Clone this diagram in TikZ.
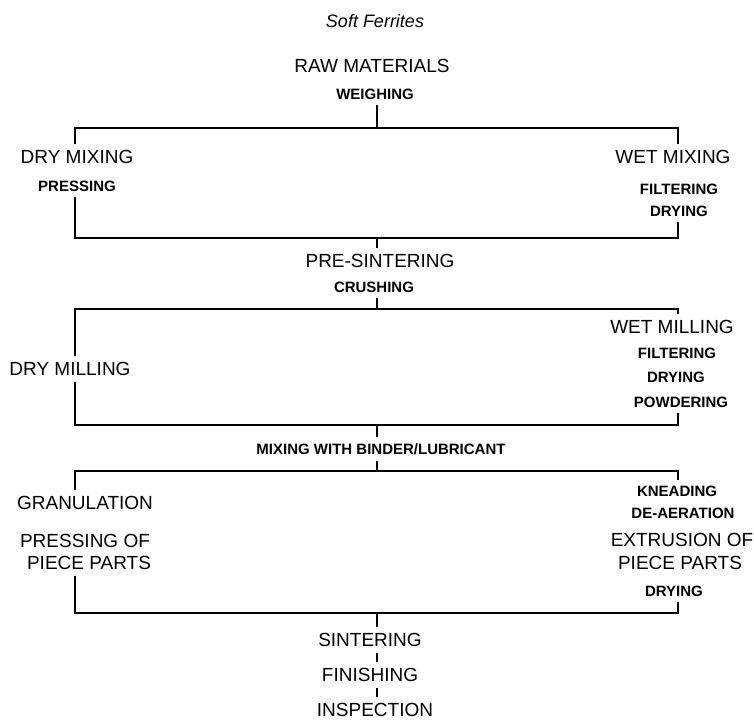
\documentclass[tikz,border=0pt]{standalone}
\usepackage{fontspec}
\setmainfont{Liberation Sans}
\usepackage{tikz}
\tikzset{
  stage/.style    = {font=\fontsize{19}{19}\selectfont, inner sep=6pt, text depth=0pt},
  substage/.style = {font=\fontsize{15}{15}\selectfont\bfseries, inner sep=6pt, text depth=0pt},
  caption/.style  = {font=\fontsize{18}{18}\selectfont\itshape, inner sep=0pt},
  link/.style     = {line width=1.9pt, black}
}

\begin{document}
\begin{tikzpicture}[x=1pt, y=-1pt]
  \useasboundingbox (0,0) rectangle (754,721);

  % Title
  \node (head)    [caption]  at (375,21)  {Soft Ferrites};

  % Raw materials
  \node (raw)     [stage]    at (372,66)  {RAW MATERIALS};
  \node (weigh)   [substage] at (375,94)  {WEIGHING};

  % Mixing branches
  \node (drymix)  [stage]    at (77,157)  {DRY MIXING};
  \node (press)   [substage] at (77,186)  {PRESSING};
  \node (wetmix)  [stage]    at (673,157) {WET MIXING};
  \node (wfilt)   [substage] at (679,189) {FILTERING};
  \node (wdry)    [substage] at (679,211) {DRYING};

  % Pre-sintering
  \node (presint) [stage]    at (380,261) {PRE-SINTERING};
  \node (crush)   [substage] at (374,287) {CRUSHING};

  % Milling branches
  \node (drymill) [stage]    at (70,369)  {DRY MILLING};
  \node (wetmill) [stage]    at (672,327) {WET MILLING};
  \node (mfilt)   [substage] at (677,353) {FILTERING};
  \node (mdry)    [substage] at (676,377) {DRYING};
  \node (powder)  [substage] at (681,402) {POWDERING};

  % Binder
  \node (binder)  [substage] at (381,449) {MIXING WITH BINDER/LUBRICANT};

  % Shaping branches
  \node (gran)    [stage]    at (85,503)  {GRANULATION};
  \node (pressof) [stage]    at (85,541)  {PRESSING OF};
  \node (lpiece)  [stage]    at (89,563)  {PIECE PARTS};
  \node (knead)   [substage] at (677,491) {KNEADING};
  \node (deaer)   [substage] at (683,513) {DE-AERATION};
  \node (extr)    [stage]    at (682,540) {EXTRUSION OF};
  \node (rpiece)  [stage]    at (680,563) {PIECE PARTS};
  \node (edry)    [substage] at (674,591) {DRYING};

  % Final stages
  \node (sint)    [stage]    at (370,640) {SINTERING};
  \node (finish)  [stage]    at (370,675) {FINISHING};
  \node (insp)    [stage]    at (375,710) {INSPECTION};

  % Bar corners
  \coordinate (b1l) at (75,128);  \coordinate (b1c) at (377,128); \coordinate (b1r) at (678,128);
  \coordinate (b2l) at (75,238);  \coordinate (b2c) at (377,238); \coordinate (b2r) at (678,238);
  \coordinate (b3l) at (75,309);  \coordinate (b3c) at (377,309); \coordinate (b3r) at (678,309);
  \coordinate (b4l) at (75,425);  \coordinate (b4c) at (377,425); \coordinate (b4r) at (678,425);
  \coordinate (b5l) at (75,471);  \coordinate (b5c) at (377,471); \coordinate (b5r) at (678,471);
  \coordinate (b6l) at (75,613);  \coordinate (b6c) at (377,613); \coordinate (b6r) at (678,613);

  % Connectors
  \draw[link] (weigh.south -| b1c) -- (b1c);
  \draw[link] (drymix.north -| b1l) -- (b1l) -- (b1r) -- (wetmix.north -| b1r);
  \draw[link] (press.south -| b2l) -- (b2l) -- (b2r) -- (wdry.south -| b2r);
  \draw[link] (b2c) -- (presint.north -| b2c);
  \draw[link] (crush.south -| b3c) -- (b3c);
  \draw[link] (drymill.north -| b3l) -- (b3l) -- (b3r) -- (wetmill.north -| b3r);
  \draw[link] (drymill.south -| b4l) -- (b4l) -- (b4r) -- (powder.south -| b4r);
  \draw[link] (b4c) -- (binder.north -| b4c);
  \draw[link] (binder.south -| b5c) -- (b5c);
  \draw[link] (gran.north -| b5l) -- (b5l) -- (b5r) -- (knead.north -| b5r);
  \draw[link] (lpiece.south -| b6l) -- (b6l) -- (b6r) -- (edry.south -| b6r);
  \draw[link] (b6c) -- (sint.north -| b6c);
  \draw[link] (sint.south -| b6c) -- (finish.north -| b6c);
  \draw[link] (finish.south -| b6c) -- (insp.north -| b6c);
\end{tikzpicture}
\end{document}
